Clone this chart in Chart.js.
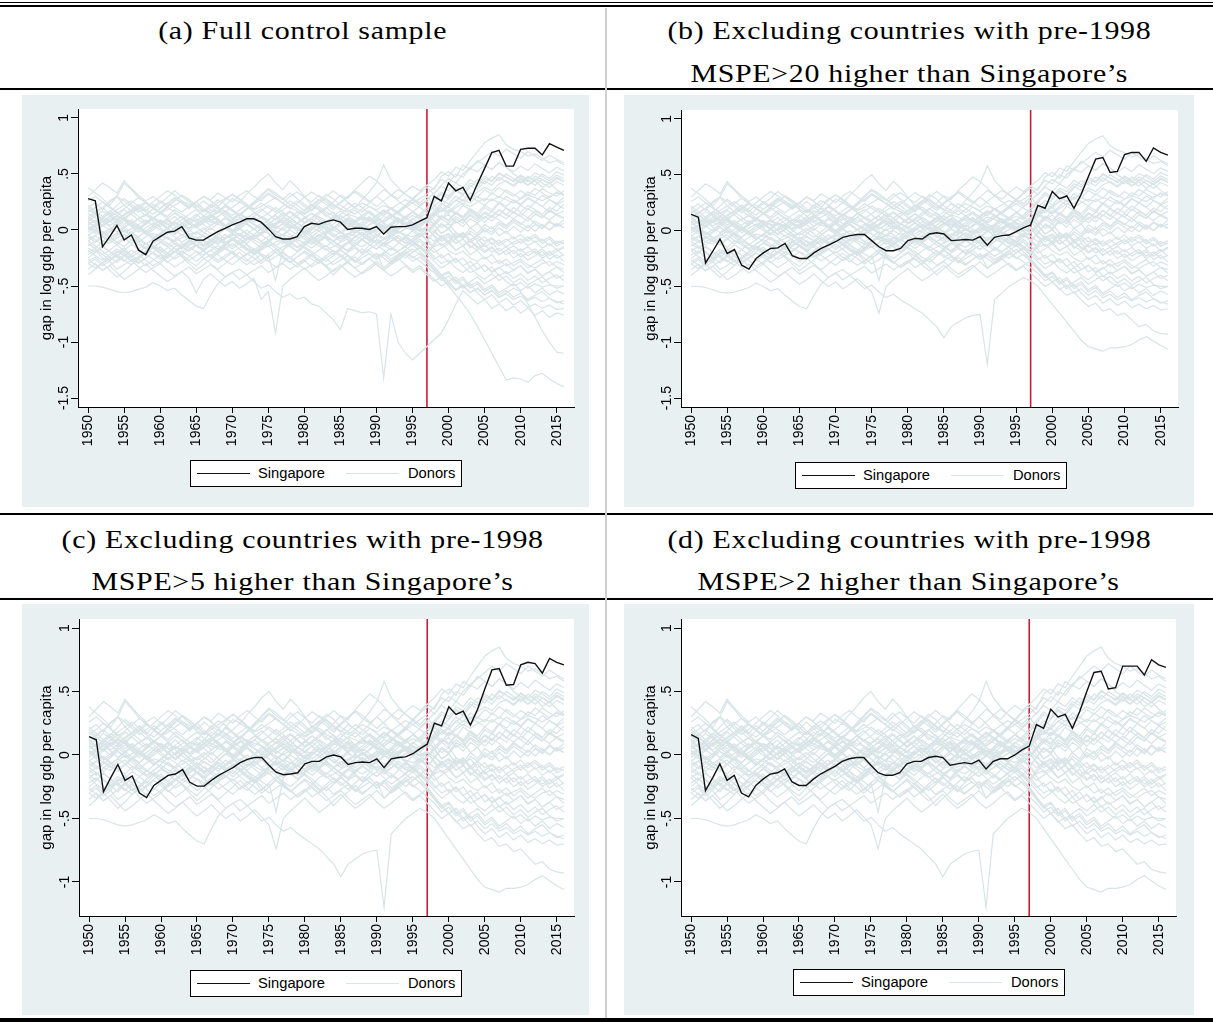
<!DOCTYPE html>
<html>
<head>
<meta charset="utf-8">
<script src="https://cdn.jsdelivr.net/npm/chart.js@4.4.0/dist/chart.umd.min.js"></script>
<style>
body { margin: 0; background: #fff; width: 1213px; height: 1023px; position: relative; overflow: hidden; font-family: 'Liberation Sans', Arial, sans-serif; }
.rule { position: absolute; left: 0; width: 1213px; background: #000; }
.vsep { position: absolute; left: 605px; width: 2px; top: 8px; height: 1010px; background: #cfcfcf; }
.title { position: absolute; width: 606px; text-align: center; font-family: 'Liberation Serif', 'Times New Roman', serif; font-size: 26px; line-height: 43px; color: #000; letter-spacing: 0.6px; }
.title span { display: inline-block; transform: scaleX(1.15); transform-origin: center; }
.panel { position: absolute; background: #e9f0f2; }
.panel canvas { position: absolute; left: 0; top: 0; }
.legend { position: absolute; width: 270px; height: 25px; border: 1px solid #000; background: #fff; font-size: 14.7px; color: #000; }
.legend .sw { position: absolute; top: 12px; width: 53px; height: 0; }
.legend .lb { position: absolute; top: 3px; line-height: 18px; }
</style>
</head>
<body>
<div class="rule" style="top:2px;height:1px"></div>
<div class="rule" style="top:5px;height:2px"></div>
<div class="rule" style="top:88px;height:2px"></div>
<div class="rule" style="top:513px;height:2px"></div>
<div class="rule" style="top:598px;height:2px"></div>
<div class="rule" style="top:1018px;height:4px"></div>
<div class="vsep"></div>

<div class="title" style="left:0;top:9px"><span>(a) Full control sample</span></div>
<div class="title" style="left:606px;top:9px"><span>(b) Excluding countries with pre-1998</span><br><span>MSPE&gt;20 higher than Singapore’s</span></div>
<div class="title" style="left:0;top:519px;line-height:42px"><span>(c) Excluding countries with pre-1998</span><br><span>MSPE&gt;5 higher than Singapore’s</span></div>
<div class="title" style="left:606px;top:519px;line-height:42px"><span>(d) Excluding countries with pre-1998</span><br><span>MSPE&gt;2 higher than Singapore’s</span></div>

<div class="panel" id="pa" style="left:22px;top:95px;width:567px;height:412px"><canvas id="ca" width="567" height="412"></canvas></div>
<div class="panel" id="pb" style="left:624px;top:95px;width:570px;height:412px"><canvas id="cb" width="570" height="412"></canvas></div>
<div class="panel" id="pc" style="left:22px;top:604px;width:567px;height:411px"><canvas id="cc" width="567" height="411"></canvas></div>
<div class="panel" id="pd" style="left:624px;top:604px;width:570px;height:411px"><canvas id="cd" width="570" height="411"></canvas></div>

<script>
const years = [];
for (let y = 1950; y <= 2016; y++) years.push(y);
const treatYear = 1997;
const xTicks = [1950, 1955, 1960, 1965, 1970, 1975, 1980, 1985, 1990, 1995, 2000, 2005, 2010, 2015];
const yTicksAB = [-1.5, -1, -0.5, 0, 0.5, 1];
const yTicksCD = [-1, -0.5, 0, 0.5, 1];
const seriesNames = ['Singapore', 'Donors'];

// Singapore gap, one array per panel
const sgpA = [.28,.26,-.15,-.06,.04,-.09,-.045,-.18,-.22,-.10, -.06,-.02,-.01,.03,-.07,-.09,-.09,-.05,-.015,.015, .045,.07,.10,.10,.07,.01,-.06,-.08,-.08,-.06, .03,.06,.05,.075,.09,.07,.005,.015,.015,.005, .03,-.035,.025,.03,.03,.045,.08,.11,.30,.26, .42,.35,.38,.265,.41,.55,.69,.71,.57,.57, .72,.73,.73,.67,.77,.74,.71];
const sgpB = [.146,.12,-.29,-.185,-.077,-.205,-.17,-.31,-.345,-.25, -.20,-.16,-.155,-.115,-.225,-.25,-.25,-.20,-.16,-.13, -.10,-.06,-.045,-.035,-.035,-.09,-.145,-.18,-.18,-.16, -.09,-.07,-.075,-.03,-.02,-.03,-.09,-.085,-.08,-.085, -.055,-.13,-.06,-.045,-.04,-.01,.025,.05,.225,.20, .35,.285,.31,.20,.325,.485,.64,.655,.52,.53, .68,.70,.70,.62,.74,.70,.675];
const sgpC = [.145,.12,-.29,-.18,-.075,-.20,-.165,-.30,-.335,-.24, -.20,-.16,-.15,-.115,-.215,-.245,-.245,-.20,-.16,-.13, -.10,-.06,-.035,-.02,-.02,-.08,-.135,-.155,-.15,-.14, -.07,-.05,-.05,-.015,.00,-.015,-.075,-.06,-.055,-.06, -.03,-.10,-.03,-.02,-.015,.01,.05,.085,.25,.23, .38,.32,.345,.235,.36,.52,.67,.68,.55,.555, .71,.73,.72,.645,.76,.73,.71];
const sgpD = [.16,.13,-.28,-.18,-.07,-.20,-.16,-.30,-.33,-.24, -.19,-.15,-.14,-.11,-.21,-.24,-.24,-.19,-.15,-.12, -.09,-.05,-.03,-.02,-.02,-.08,-.14,-.16,-.16,-.14, -.07,-.05,-.05,-.02,-.01,-.02,-.08,-.07,-.06,-.07, -.04,-.11,-.05,-.03,-.03,.00,.04,.07,.24,.21, .36,.30,.32,.21,.34,.50,.65,.66,.52,.53, .70,.70,.70,.63,.75,.71,.69];

// donor placebo gaps (shared core)
const d01 = [.05,.08,.10,.07,.12,.09,.06,.10,.13,.11, .08,.05,.07,.04,.02,.06,.09,.07,.05,.03, .06,.10,.12,.09,.07,.04,.02,.05,.08,.06, .03,.01,.04,.06,.09,.07,.05,.08,.11,.09, .06,.03,.05,.02,.04,.07,.05,.09,.14,.18, .15,.20,.24,.21,.25,.28,.26,.30,.27,.24, .28,.31,.29,.26,.30,.33,.31];
const d02 = [-.08,-.05,-.10,-.12,-.07,-.04,-.09,-.11,-.06,-.03, -.05,-.08,-.10,-.07,-.04,-.02,-.06,-.09,-.11,-.08, -.05,-.03,-.06,-.09,-.12,-.10,-.07,-.04,-.06,-.09, -.11,-.08,-.05,-.07,-.10,-.06,-.03,-.05,-.08,-.06, -.04,-.07,-.05,-.02,-.04,-.06,-.03,-.08,-.15,-.12, -.18,-.22,-.19,-.25,-.28,-.24,-.30,-.27,-.32,-.29, -.26,-.31,-.34,-.30,-.28,-.33,-.35];
const d03 = [.20,.24,.18,.26,.30,.22,.17,.21,.25,.19, .15,.18,.22,.26,.23,.19,.16,.20,.24,.28, .32,.27,.22,.18,.21,.25,.29,.24,.20,.17, .14,.18,.21,.16,.13,.10,.14,.12,.09,.11, .08,.12,.10,.07,.09,.13,.10,.06,.12,.18, .22,.26,.31,.28,.34,.38,.35,.41,.44,.40, .46,.43,.48,.45,.42,.47,.44];
const d04 = [-.22,-.18,-.25,-.28,-.20,-.16,-.23,-.26,-.19,-.14, -.17,-.21,-.15,-.12,-.16,-.19,-.22,-.18,-.14,-.17, -.20,-.16,-.13,-.17,-.21,-.25,-.19,-.15,-.12,-.16, -.13,-.10,-.14,-.18,-.15,-.11,-.08,-.12,-.15,-.11, -.09,-.13,-.10,-.07,-.11,-.14,-.10,-.17,-.24,-.30, -.27,-.34,-.38,-.33,-.40,-.44,-.39,-.45,-.41,-.47, -.43,-.49,-.45,-.42,-.48,-.52,-.50];
const d05 = [.02,-.03,.04,.08,.03,-.02,.01,.05,.09,.04, .00,-.04,.02,.06,.10,.07,.12,.18,.15,.22, .28,.25,.32,.38,.45,.50,.42,.36,.44,.38, .30,.22,.18,.12,.16,.10,.06,.02,.05,.01, -.02,.03,.00,-.03,.01,.04,.00,.03,-.02,-.06, -.03,-.08,-.04,-.09,-.05,-.10,-.07,-.12,-.08,-.13, -.10,-.06,-.11,-.08,-.14,-.10,-.12];
const d06 = [.38,.33,.28,.22,.30,.42,.36,.29,.24,.20, .16,.12,.18,.14,.10,.08,.12,.09,.06,.10, .07,.04,.08,.05,.02,.06,.03,.00,.04,.01, -.02,.02,-.01,.03,.00,-.03,.01,-.02,.02,-.01, .03,.00,-.03,.01,.04,.02,-.01,.02,-.05,-.10, -.06,-.12,-.08,-.14,-.18,-.13,-.20,-.16,-.22,-.18, -.24,-.20,-.17,-.23,-.19,-.25,-.22];
const d07 = [-.35,-.30,-.36,-.32,-.27,-.22,-.28,-.24,-.19,-.15, -.20,-.16,-.12,-.17,-.13,-.09,-.14,-.10,-.06,-.11, -.08,-.04,-.09,-.05,-.10,-.15,-.11,-.07,-.12,-.08, -.04,-.09,-.05,-.01,-.06,-.02,-.07,-.03,.01,-.04, .00,.04,-.01,.03,.06,.02,.05,.09,.15,.20, .16,.22,.27,.24,.30,.26,.33,.29,.36,.32, .28,.34,.31,.37,.33,.30,.35];
const d08 = [.12,.16,.20,.14,.18,.22,.26,.21,.17,.23, .19,.24,.20,.16,.21,.25,.19,.15,.20,.17, .13,.18,.22,.16,.12,.09,.14,.18,.22,.26, .21,.17,.24,.28,.23,.19,.16,.20,.24,.21, .18,.22,.19,.23,.27,.24,.20,.16,.08,.02, .06,-.02,-.07,-.03,-.10,-.06,-.13,-.09,-.15,-.11, -.08,-.14,-.10,-.16,-.12,-.18,-.15];
const d09 = [-.12,-.16,-.10,-.06,-.11,-.15,-.09,-.13,-.17,-.12, -.08,-.12,-.16,-.20,-.14,-.10,-.05,-.09,-.13,-.07, -.03,-.08,-.12,-.06,-.02,.03,-.01,-.05,.00,-.04, -.08,-.13,-.09,-.05,-.10,-.14,-.18,-.12,-.08,-.13, -.17,-.12,-.15,-.19,-.14,-.10,-.16,-.20,-.12,-.05, -.10,-.02,-.06,.02,-.03,.05,.01,.07,.03,.09, .05,.11,.06,.02,.08,.04,.09];
const d10 = [.10,.06,.12,.17,.13,.09,.15,.19,.24,.20, .26,.22,.28,.24,.19,.25,.30,.27,.33,.29, .25,.31,.35,.30,.26,.32,.28,.24,.30,.34, .29,.25,.31,.27,.22,.18,.24,.20,.16,.21, .17,.13,.19,.15,.20,.24,.28,.32,.38,.45, .42,.50,.47,.55,.52,.58,.54,.60,.56,.52, .57,.53,.59,.55,.51,.56,.53];
const d11 = [-.28,-.24,-.30,-.26,-.22,-.27,-.31,-.25,-.21,-.26, -.30,-.24,-.19,-.23,-.28,-.32,-.26,-.22,-.27,-.23, -.19,-.24,-.28,-.22,-.18,-.14,-.20,-.25,-.29,-.24, -.20,-.26,-.30,-.25,-.21,-.17,-.23,-.28,-.22,-.18, -.24,-.20,-.26,-.22,-.18,-.24,-.28,-.33,-.38,-.45, -.41,-.48,-.44,-.52,-.48,-.55,-.51,-.58,-.54,-.60, -.56,-.62,-.58,-.55,-.61,-.64,-.66];
const d12 = [.05,.09,.04,.00,.06,.10,.05,.01,.07,.11, .06,.02,.08,.12,.07,.03,.09,.13,.17,.12, .08,.14,.19,.24,.30,.36,.31,.27,.33,.28, .23,.18,.24,.30,.35,.30,.25,.20,.27,.34, .42,.58,.45,.38,.32,.28,.24,.30,.22,.16, .21,.15,.10,.16,.12,.07,.13,.09,.04,.10, .06,.02,.08,.04,.00,.05,.02];
const d13 = [.00,.04,.08,.03,-.02,.03,.07,.02,-.03,.02, .06,.01,-.04,.01,.05,.10,.05,.00,.06,.11, .06,.01,-.04,.01,.06,.02,-.03,.02,.07,.03, -.02,.03,.08,.04,-.01,.04,.09,.05,.00,.05, .10,.06,.01,.06,.11,.07,.02,.08,.14,.10, .18,.14,.22,.18,.12,.20,.16,.24,.19,.15, .22,.18,.25,.21,.16,.23,.19];
const d14 = [-.04,-.09,-.13,-.08,-.03,-.07,-.12,-.06,-.01,-.05, -.10,-.14,-.09,-.04,-.08,-.13,-.17,-.11,-.06,-.10, -.15,-.09,-.04,-.08,-.03,.02,-.03,-.08,-.12,-.07, -.02,-.06,-.11,-.15,-.10,-.05,-.09,-.14,-.08,-.03, -.07,-.12,-.06,-.01,-.05,-.10,-.04,-.09,-.02,.05, .01,.08,.03,.10,.06,.12,.08,.14,.10,.16, .12,.08,.14,.11,.17,.13,.10];
const d15 = [.15,.11,.07,.12,.16,.11,.06,.10,.14,.08, .03,.07,.12,.06,.01,.05,.10,.14,.08,.03, .07,.11,.05,.00,.04,.09,.13,.07,.02,.06, .11,.15,.09,.04,.08,.13,.08,.03,.07,.12, .06,.01,.05,.10,.05,.00,.04,.09,.00,-.08, -.04,-.12,-.08,-.16,-.11,-.19,-.15,-.22,-.18,-.25, -.21,-.27,-.23,-.19,-.26,-.22,-.28];
const d16 = [-.16,-.20,-.14,-.19,-.24,-.18,-.13,-.17,-.22,-.16, -.11,-.15,-.20,-.15,-.10,-.14,-.19,-.13,-.08,-.12, -.17,-.12,-.07,-.11,-.16,-.10,-.05,-.09,-.14,-.19, -.13,-.08,-.12,-.17,-.22,-.16,-.11,-.15,-.20,-.14, -.09,-.13,-.18,-.12,-.07,-.11,-.16,-.10,-.02,.06, .02,.10,.06,.13,.08,.15,.11,.18,.13,.20, .16,.22,.18,.14,.20,.17,.23];
const d17 = [.08,.12,.17,.13,.09,.14,.18,.23,.18,.14, .19,.24,.29,.24,.20,.25,.30,.26,.21,.27, .32,.28,.23,.19,.24,.20,.16,.21,.26,.22, .17,.22,.27,.23,.18,.24,.29,.34,.29,.25, .30,.36,.32,.28,.34,.39,.35,.40,.45,.52, .48,.56,.53,.62,.70,.78,.82,.85,.76,.72, .70,.66,.68,.64,.60,.62,.58];
const d18 = [.30,.36,.42,.38,.33,.44,.37,.31,.26,.30, .25,.20,.26,.31,.27,.22,.17,.23,.19,.14, .10,.15,.11,.07,.12,.08,.04,.09,.05,.01, .06,.10,.14,.19,.25,.31,.28,.36,.42,.48, .44,.38,.31,.26,.21,.27,.33,.38,.32,.40, .46,.42,.50,.56,.60,.65,.70,.66,.72,.68, .64,.70,.66,.62,.67,.63,.60];
const d19 = [-.10,-.14,-.19,-.24,-.29,-.23,-.18,-.22,-.27,-.32, -.28,-.23,-.19,-.24,-.30,-.36,-.31,-.26,-.21,-.17, -.12,-.17,-.22,-.18,-.13,-.09,-.14,-.10,-.06,-.11, -.16,-.21,-.27,-.33,-.40,-.34,-.29,-.24,-.30,-.26, -.21,-.34,-.28,-.23,-.18,-.13,-.19,-.25,-.33,-.40, -.37,-.45,-.52,-.48,-.56,-.62,-.58,-.65,-.61,-.67, -.63,-.69,-.66,-.70,-.67,-.71,-.70];
const d20 = [.03,.00,-.04,-.01,.04,.08,.03,-.02,.02,.06, .02,-.03,.01,.05,.00,-.04,.00,.04,.08,.03, -.02,.02,.06,.01,-.04,.00,.05,.09,.04,-.01, .03,.07,.02,-.03,.01,.06,.10,.05,.00,.04, .08,.03,-.02,.02,.07,.03,-.01,-.05,-.10,-.06, -.12,-.08,-.14,-.09,-.15,-.20,-.16,-.22,-.18,-.14, -.19,-.15,-.21,-.17,-.23,-.19,-.16];
const d21 = [.18,.14,.10,.16,.22,.28,.23,.18,.13,.19, .24,.29,.35,.30,.25,.20,.26,.21,.16,.22, .18,.13,.19,.25,.31,.37,.33,.28,.23,.19, .15,.20,.26,.32,.28,.22,.18,.14,.19,.24, .30,.25,.19,.14,.10,.16,.12,.08,.15,.22, .28,.35,.31,.38,.45,.41,.48,.44,.50,.46, .42,.48,.44,.50,.46,.52,.49];
const d22 = [-.40,-.35,-.30,-.36,-.42,-.37,-.31,-.26,-.32,-.27, -.22,-.28,-.33,-.29,-.24,-.19,-.25,-.30,-.35,-.30, -.25,-.20,-.26,-.31,-.27,-.22,-.17,-.23,-.28,-.33, -.28,-.23,-.18,-.14,-.19,-.24,-.20,-.16,-.21,-.17, -.13,-.18,-.23,-.19,-.15,-.20,-.16,-.22,-.28,-.34, -.30,-.26,-.32,-.38,-.35,-.31,-.37,-.33,-.39,-.36, -.32,-.38,-.35,-.41,-.37,-.43,-.40];
const d23 = [.08,.03,-.02,-.07,-.03,.02,.06,.01,-.04,.00, .05,.09,.04,-.01,-.05,-.10,-.15,-.09,-.04,.01, -.03,-.08,-.13,-.20,-.28,-.22,-.45,-.18,-.10,-.05, .00,-.05,-.10,-.04,.02,.07,.02,-.03,.01,-.02, .03,-.01,.04,.08,.03,-.01,.05,.10,.17,.24, .20,.27,.23,.30,.26,.22,.28,.24,.30,.26, .22,.28,.25,.31,.27,.24,.29];
const d24 = [-.05,.00,.05,.10,.06,.01,-.04,.01,.06,.11, .07,.02,-.03,.02,.07,.12,.18,.14,.09,.04, .09,.14,.10,.05,.00,.05,.10,.15,.11,.06, .02,.07,.12,.08,.03,-.02,.03,.08,.13,.17, .12,.07,.12,.17,.22,.28,.34,.40,.36,.48, .52,.47,.58,.54,.62,.58,.54,.60,.56,.50, .46,.40,.44,.38,.42,.36,.32];
const d25 = [.10,.14,.09,.04,.08,.13,.17,.12,.07,.11, .15,.10,.05,.09,.14,.18,.13,.08,.12,.16, .11,.06,.10,.15,.19,.14,.09,.13,.17,.12, .07,.11,.16,.20,.15,.10,.14,.18,.13,.08, .12,.17,.13,.08,.12,.16,.11,.15,.21,.27, .23,.30,.26,.33,.29,.36,.32,.38,.34,.30, .35,.31,.37,.33,.29,.34,.31];
const d26 = [-.14,-.10,-.05,-.09,-.13,-.08,-.03,-.07,-.12,-.16, -.11,-.06,-.10,-.15,-.19,-.14,-.09,-.13,-.17,-.12, -.07,-.11,-.16,-.20,-.15,-.10,-.14,-.18,-.13,-.08, -.12,-.16,-.11,-.06,-.10,-.15,-.19,-.14,-.09,-.13, -.17,-.12,-.07,-.11,-.15,-.10,-.14,-.19,-.26,-.22, -.29,-.25,-.32,-.28,-.35,-.31,-.38,-.34,-.30,-.36, -.32,-.39,-.35,-.41,-.37,-.33,-.38];
const d27 = [.22,.17,.12,.08,.13,.18,.14,.09,.05,.10, .15,.20,.16,.11,.06,.02,.07,.12,.08,.03, -.01,.04,.09,.05,.00,.05,.10,.06,.01,.06, .11,.07,.02,.07,.12,.08,.03,.08,.13,.09, .04,.09,.14,.10,.05,.10,.06,.11,.04,-.03, .01,-.06,-.02,-.09,-.05,.00,-.04,.02,-.03,.03, -.02,.04,-.01,.05,.00,.06,.02];
const d28 = [-.02,.03,.07,.12,.08,.03,-.02,-.06,-.01,.04, .09,.05,.00,-.05,-.01,.04,.09,.14,.10,.05, .00,.05,.10,.15,.11,.06,.01,.06,.11,.16, .12,.07,.02,.07,.12,.17,.13,.08,.03,.08, .13,.18,.14,.09,.04,.09,.14,.20,.27,.34, .30,.38,.35,.42,.39,.46,.43,.50,.47,.44, .49,.45,.51,.48,.44,.49,.46];
const d29 = [-.25,-.20,-.15,-.19,-.24,-.28,-.22,-.17,-.12,-.16, -.21,-.25,-.20,-.15,-.10,-.14,-.19,-.23,-.18,-.13, -.08,-.12,-.17,-.21,-.16,-.11,-.06,-.10,-.15,-.19, -.14,-.09,-.04,-.08,-.13,-.17,-.12,-.07,-.02,-.06, -.11,-.15,-.10,-.05,-.09,-.13,-.08,-.14,-.20,-.16, -.12,-.18,-.14,-.10,-.16,-.12,-.08,-.14,-.10,-.06, -.12,-.08,-.04,-.10,-.06,-.12,-.09];
const d30 = [.07,.02,-.03,.01,.06,.11,.07,.02,-.03,-.08, -.04,.01,.06,.02,-.03,-.08,-.13,-.09,-.04,.01, .06,.02,-.03,-.08,-.04,.01,.06,.11,.07,.02, -.03,.01,.06,.02,-.03,-.08,-.04,.01,-.04,-.09, -.05,.00,-.05,-.10,-.06,-.01,-.06,-.02,.05,.12, .08,.15,.11,.18,.14,.10,.17,.13,.20,.16, .12,.19,.15,.11,.18,.14,.17];
const d31 = [.16,.20,.25,.21,.16,.11,.15,.20,.16,.11, .06,.10,.15,.11,.06,.02,.06,.11,.16,.21, .17,.12,.07,.12,.17,.22,.18,.13,.08,.13, .18,.23,.19,.14,.09,.14,.19,.24,.20,.15, .10,.15,.20,.16,.11,.16,.21,.26,.18,.10, .14,.06,.10,.02,.06,-.02,.03,-.05,-.01,-.08, -.04,-.10,-.06,-.12,-.08,-.14,-.11];
const d32 = [-.06,-.11,-.07,-.02,.03,-.01,-.06,-.11,-.16,-.12, -.07,-.02,-.06,-.11,-.07,-.02,.02,-.03,-.08,-.13, -.09,-.04,.00,-.05,-.10,-.06,-.01,-.05,-.10,-.15, -.11,-.06,-.01,-.05,-.10,-.15,-.11,-.06,-.02,-.07, -.12,-.08,-.03,-.07,-.12,-.08,-.03,-.09,-.17,-.25, -.21,-.29,-.25,-.33,-.29,-.37,-.33,-.41,-.37,-.43, -.39,-.45,-.41,-.47,-.43,-.40,-.45];
const d33 = [.26,.30,.25,.20,.15,.19,.24,.29,.25,.20, .16,.21,.26,.31,.27,.22,.17,.22,.27,.23, .18,.13,.18,.23,.28,.33,.29,.24,.19,.24, .29,.34,.30,.25,.20,.25,.30,.35,.31,.26, .21,.26,.31,.36,.32,.27,.22,.27,.33,.39, .35,.42,.38,.45,.41,.48,.44,.51,.47,.43, .48,.44,.40,.45,.41,.46,.43];
const d34 = [-.18,-.23,-.27,-.22,-.17,-.21,-.26,-.30,-.25,-.20, -.24,-.29,-.24,-.19,-.23,-.28,-.23,-.18,-.22,-.27, -.31,-.26,-.21,-.25,-.30,-.25,-.20,-.24,-.29,-.24, -.19,-.23,-.28,-.23,-.18,-.22,-.27,-.22,-.17,-.21, -.26,-.21,-.16,-.20,-.25,-.20,-.15,-.21,-.14,-.07, -.11,-.04,-.08,-.01,-.05,.02,-.02,.05,.01,.07, .03,-.01,.05,.01,.07,.03,.06];
const d35 = [.01,.05,.10,.15,.10,.05,.09,.04,-.01,.04, .09,.05,.00,.04,.09,.14,.09,.04,.08,.03, -.02,.03,.08,.12,.07,.02,.06,.11,.16,.11, .06,.10,.05,.00,.05,.10,.06,.01,.05,.10, .05,.01,.06,.11,.06,.02,.07,.12,.05,-.03, .01,-.07,-.03,-.11,-.07,-.15,-.11,-.19,-.15,-.21, -.17,-.23,-.19,-.25,-.21,-.17,-.23];
const d36 = [-.10,-.05,-.01,-.06,-.11,-.07,-.02,.03,-.02,-.07, -.03,.02,.07,.02,-.03,-.08,-.03,.02,-.03,-.08, -.04,.01,.06,.01,-.04,-.09,-.04,.01,-.04,-.09, -.05,.00,.05,.00,-.05,-.10,-.05,.00,-.05,-.10, -.06,-.01,.04,-.01,-.06,-.11,-.06,-.01,.06,.13, .09,.16,.12,.19,.15,.22,.18,.25,.21,.27, .23,.29,.25,.21,.27,.23,.26];
const d37 = [.12,.07,.03,.08,.13,.09,.04,.00,.05,.10, .06,.01,-.03,.02,.07,.03,-.02,-.06,-.01,.04, .00,-.05,-.09,-.04,.01,-.03,-.08,-.12,-.07,-.02, -.06,-.11,-.07,-.02,.03,-.01,-.06,-.10,-.05,.00, -.04,-.09,-.05,.00,.05,.01,-.04,.02,-.06,-.14, -.10,-.18,-.14,-.22,-.18,-.26,-.22,-.30,-.26,-.32, -.28,-.34,-.30,-.26,-.32,-.28,-.31];
const d38 = [-.30,-.34,-.29,-.24,-.19,-.23,-.28,-.24,-.19,-.14, -.18,-.23,-.19,-.14,-.09,-.13,-.18,-.14,-.09,-.04, -.08,-.13,-.09,-.04,.01,-.03,-.08,-.04,.01,.06, .02,-.03,.01,.06,.11,.07,.02,.06,.11,.16, .12,.07,.11,.16,.21,.17,.12,.18,.25,.32, .28,.36,.32,.40,.36,.44,.40,.47,.43,.39, .44,.40,.46,.42,.38,.43,.40];
const d39 = [.04,-.01,-.06,-.10,-.05,.00,-.04,-.09,-.13,-.08, -.03,-.07,-.12,-.16,-.11,-.06,-.10,-.15,-.19,-.14, -.09,-.13,-.18,-.22,-.17,-.12,-.16,-.21,-.25,-.20, -.15,-.19,-.24,-.28,-.23,-.18,-.22,-.27,-.31,-.26, -.21,-.25,-.30,-.26,-.21,-.17,-.22,-.28,-.35,-.42, -.38,-.46,-.42,-.50,-.46,-.53,-.49,-.56,-.52,-.48, -.54,-.50,-.56,-.52,-.58,-.54,-.57];
const d40 = [.20,.15,.20,.25,.30,.26,.21,.16,.20,.25, .30,.35,.31,.26,.21,.25,.30,.26,.21,.16, .20,.25,.21,.16,.11,.15,.20,.16,.11,.06, .10,.15,.11,.06,.02,.06,.11,.07,.02,-.03, .01,.06,.02,-.03,.01,.06,.02,-.02,.04,.10, .06,.12,.08,.14,.10,.16,.12,.18,.14,.10, .15,.11,.17,.13,.09,.14,.11];

// outlying donors, panels b-d
const x01 = [-.50,-.50,-.51,-.53,-.55,-.56,-.55,-.53,-.51,-.47, -.50,-.54,-.52,-.58,-.63,-.68,-.70,-.58,-.48,-.42, -.38,-.35,-.40,-.36,-.32,-.38,-.34,-.30,-.35,-.31, -.27,-.33,-.29,-.25,-.31,-.27,-.23,-.29,-.25,-.21, -.26,-.22,-.28,-.24,-.20,-.25,-.21,-.26,-.33,-.40, -.46,-.42,-.50,-.46,-.42,-.48,-.44,-.40,-.46,-.50, -.47,-.52,-.48,-.51,-.49,-.50,-.50];
const x02 = [-.30,-.26,-.32,-.28,-.35,-.31,-.27,-.33,-.38,-.34, -.30,-.36,-.41,-.37,-.33,-.39,-.35,-.31,-.36,-.42, -.38,-.44,-.40,-.46,-.52,-.49,-.55,-.60,-.57,-.62, -.66,-.70,-.74,-.80,-.86,-.96,-.86,-.82,-.78,-.76, -.75,-1.20,-.62,-.56,-.50,-.46,-.42,-.45,-.50,-.58, -.66,-.74,-.82,-.90,-.98,-1.04,-1.06,-1.08,-1.05,-1.05, -1.04,-1.02,-.98,-.95,-.99,-1.03,-1.06];
const x03 = [-.18,-.14,-.20,-.25,-.21,-.17,-.23,-.28,-.24,-.19, -.15,-.21,-.26,-.22,-.18,-.13,-.19,-.24,-.20,-.16, -.22,-.27,-.23,-.19,-.25,-.30,-.26,-.22,-.28,-.33, -.29,-.25,-.31,-.36,-.32,-.28,-.34,-.39,-.35,-.31, -.37,-.42,-.38,-.33,-.29,-.35,-.31,-.27,-.34,-.40, -.46,-.52,-.58,-.55,-.62,-.68,-.65,-.72,-.70,-.76, -.74,-.80,-.86,-.84,-.90,-.92,-.93];
const x04 = [-.26,-.31,-.36,-.32,-.38,-.44,-.40,-.35,-.30,-.36, -.41,-.46,-.42,-.37,-.43,-.48,-.44,-.39,-.45,-.50, -.46,-.52,-.48,-.43,-.49,-.55,-.74,-.50,-.44,-.39, -.34,-.40,-.45,-.41,-.36,-.31,-.37,-.42,-.38,-.33, -.28,-.34,-.29,-.25,-.31,-.36,-.32,-.38,-.44,-.50, -.46,-.53,-.49,-.56,-.52,-.58,-.54,-.60,-.57,-.62, -.59,-.63,-.60,-.64,-.61,-.65,-.63];

// outlying donors, full sample only
const a01 = [-.26,-.31,-.36,-.32,-.38,-.44,-.40,-.35,-.30,-.36, -.41,-.46,-.42,-.37,-.43,-.56,-.44,-.39,-.45,-.50, -.46,-.52,-.48,-.43,-.62,-.55,-.92,-.50,-.44,-.39, -.34,-.40,-.45,-.41,-.36,-.31,-.37,-.42,-.38,-.33, -.28,-.34,-.29,-.25,-.31,-.36,-.32,-.38,-.44,-.50, -.46,-.53,-.49,-.56,-.52,-.58,-.54,-.60,-.57,-.62, -.59,-.63,-.60,-.64,-.61,-.65,-.63];
const a02 = [-.30,-.26,-.32,-.28,-.35,-.31,-.27,-.33,-.38,-.34, -.30,-.36,-.41,-.37,-.33,-.39,-.35,-.31,-.36,-.42, -.38,-.44,-.40,-.46,-.52,-.49,-.55,-.60,-.57,-.62, -.60,-.66,-.68,-.74,-.80,-.89,-.70,-.72,-.74,-.73, -.75,-1.32,-.75,-1.00,-1.10,-1.16,-1.10,-1.04,-.98,-.92, -.80,-.66,-.54,-.60,-.66,-.62,-.70,-.66,-.72,-.68, -.74,-.70,-.76,-.72,-.78,-.74,-.76];
const a03 = [-.20,-.16,-.22,-.27,-.23,-.18,-.24,-.29,-.25,-.20, -.15,-.21,-.26,-.22,-.17,-.13,-.19,-.24,-.20,-.15, -.21,-.26,-.22,-.17,-.23,-.28,-.24,-.19,-.25,-.30, -.26,-.21,-.27,-.32,-.28,-.23,-.29,-.34,-.30,-.25, -.31,-.36,-.31,-.27,-.22,-.28,-.24,-.30,-.36,-.43, -.50,-.58,-.66,-.75,-.86,-.98,-1.10,-1.22,-1.34,-1.32, -1.33,-1.36,-1.30,-1.28,-1.33,-1.37,-1.40];
const a04 = [-.12,-.17,-.22,-.18,-.13,-.19,-.24,-.20,-.15,-.21, -.26,-.21,-.16,-.22,-.27,-.23,-.18,-.24,-.29,-.25, -.20,-.26,-.31,-.27,-.22,-.28,-.33,-.29,-.24,-.30, -.35,-.31,-.26,-.32,-.37,-.33,-.28,-.34,-.39,-.35, -.30,-.36,-.41,-.37,-.32,-.38,-.34,-.40,-.46,-.42, -.48,-.54,-.50,-.56,-.52,-.58,-.54,-.60,-.56,-.52, -.55,-.66,-.78,-.90,-1.00,-1.09,-1.10];

const coreDonors = [d01,d02,d03,d04,d05,d06,d07,d08,d09,d10,d11,d12,d13,d14,d15,d16,d17,d18,d19,d20,
                    d21,d22,d23,d24,d25,d26,d27,d28,d29,d30,d31,d32,d33,d34,d35,d36,d37,d38,d39,d40];
const donorsA = coreDonors.concat([x01, a01, a02, a03, a04]);
const donorsBCD = coreDonors.concat([x01, x02, x03, x04]);

const DONOR_COLOR = '#d8e4e7';
const SGP_COLOR = '#111';
const TREAT_COLOR = '#c41e3a';
const axisFont = { family: "'Liberation Sans', Arial, sans-serif", size: 14 };

function fmtY(v) {
    if (v === 0) return '0';
    return String(v).replace('0.', '.');
}

const gapPlugin = {
    id: 'gapPlugin',
    beforeDraw(chart) {
        const a = chart.chartArea, ctx = chart.ctx;
        ctx.save();
        ctx.fillStyle = '#fff';
        ctx.fillRect(a.left, a.top, a.right - a.left, a.bottom - a.top);
        ctx.restore();
    },
    beforeDatasetsDraw(chart) {
        // treatment year marker, drawn under the donor lines
        const a = chart.chartArea, ctx = chart.ctx;
        const x = chart.scales.x.getPixelForValue(treatYear);
        ctx.save();
        ctx.strokeStyle = TREAT_COLOR;
        ctx.lineWidth = 1.6;
        ctx.beginPath();
        ctx.moveTo(x, a.top);
        ctx.lineTo(x, a.bottom);
        ctx.stroke();
        ctx.restore();
    },
    afterDraw(chart) {
        // y tick labels turned on their side, as Stata does
        const ys = chart.scales.y, ctx = chart.ctx;
        ctx.save();
        ctx.fillStyle = '#000';
        ctx.font = axisFont.size + 'px ' + axisFont.family;
        ctx.textAlign = 'center';
        ctx.textBaseline = 'alphabetic';
        ys.ticks.forEach(t => {
            const p = ys.getPixelForValue(t.value);
            ctx.save();
            ctx.translate(ys.right - 10, p);
            ctx.rotate(-Math.PI / 2);
            ctx.fillText(fmtY(t.value), 0, 0);
            ctx.restore();
        });
        ctx.restore();
    }
};

function makePanel(canvasId, sgp, donors, yMin, yMax, yTicks, g) {
    const datasets = [{
        label: seriesNames[0],
        data: years.map((yr, i) => ({ x: yr, y: sgp[i] })),
        borderColor: SGP_COLOR,
        borderWidth: 1.4,
        pointRadius: 0,
        tension: 0,
        order: 0
    }];
    donors.forEach(d => {
        datasets.push({
            label: seriesNames[1],
            data: years.map((yr, i) => ({ x: yr, y: d[i] })),
            borderColor: DONOR_COLOR,
            borderWidth: 1.2,
            pointRadius: 0,
            tension: 0,
            order: 1
        });
    });

    return new Chart(document.getElementById(canvasId), {
        type: 'line',
        data: { datasets },
        plugins: [gapPlugin],
        options: {
            responsive: false,
            animation: false,
            events: [],
            layout: { padding: { left: 0, top: g.top, right: g.right, bottom: 0 } },
            plugins: { legend: { display: false }, tooltip: { enabled: false } },
            scales: {
                x: {
                    type: 'linear',
                    min: 1948.6,
                    max: 2017.4,
                    afterBuildTicks: s => { s.ticks = xTicks.map(v => ({ value: v })); },
                    afterFit: s => { s.height = g.xh; },
                    ticks: {
                        autoSkip: false,
                        minRotation: 90,
                        maxRotation: 90,
                        padding: 2,
                        color: '#000',
                        font: axisFont,
                        callback: v => String(v)
                    },
                    grid: { display: true, drawOnChartArea: false, drawTicks: true, tickLength: 6, color: '#000', lineWidth: 1 },
                    border: { display: true, color: '#000', width: 1 }
                },
                y: {
                    type: 'linear',
                    min: yMin,
                    max: yMax,
                    afterBuildTicks: s => { s.ticks = yTicks.map(v => ({ value: v })); },
                    afterFit: s => { s.width = g.yw; },
                    ticks: { display: false },
                    grid: { display: true, drawOnChartArea: false, drawTicks: true, tickLength: 7, color: '#000', lineWidth: 1 },
                    border: { display: true, color: '#000', width: 1 },
                    title: {
                        display: true,
                        text: 'gap in log gdp per capita',
                        color: '#000',
                        font: { family: axisFont.family, size: 15 },
                        padding: { top: g.tp, bottom: 0 }
                    }
                }
            }
        }
    });
}

function addLegend(panelId, left, top) {
    const box = document.createElement('div');
    box.className = 'legend';
    box.style.left = left + 'px';
    box.style.top = top + 'px';
    box.innerHTML =
        '<div class="sw" style="left:6px;border-top:1px solid ' + SGP_COLOR + '"></div>' +
        '<span class="lb" style="left:67px">' + seriesNames[0] + '</span>' +
        '<div class="sw" style="left:155px;border-top:1px solid ' + DONOR_COLOR + '"></div>' +
        '<span class="lb" style="left:217px">' + seriesNames[1] + '</span>';
    document.getElementById(panelId).appendChild(box);
}

makePanel('ca', sgpA, donorsA, -1.58, 1.08, yTicksAB, { top: 14, right: 15, xh: 100, yw: 56, tp: 16 });
makePanel('cb', sgpB, donorsBCD, -1.58, 1.08, yTicksAB, { top: 15, right: 16, xh: 100, yw: 57, tp: 18 });
makePanel('cc', sgpC, donorsBCD, -1.268, 1.071, yTicksCD, { top: 15, right: 15, xh: 99, yw: 57, tp: 16 });
makePanel('cd', sgpD, donorsBCD, -1.268, 1.071, yTicksCD, { top: 15, right: 18, xh: 99, yw: 57, tp: 18 });

addLegend('pa', 168, 365);
addLegend('pb', 171, 367);
addLegend('pc', 168, 366);
addLegend('pd', 169, 365);
</script>
</body>
</html>
